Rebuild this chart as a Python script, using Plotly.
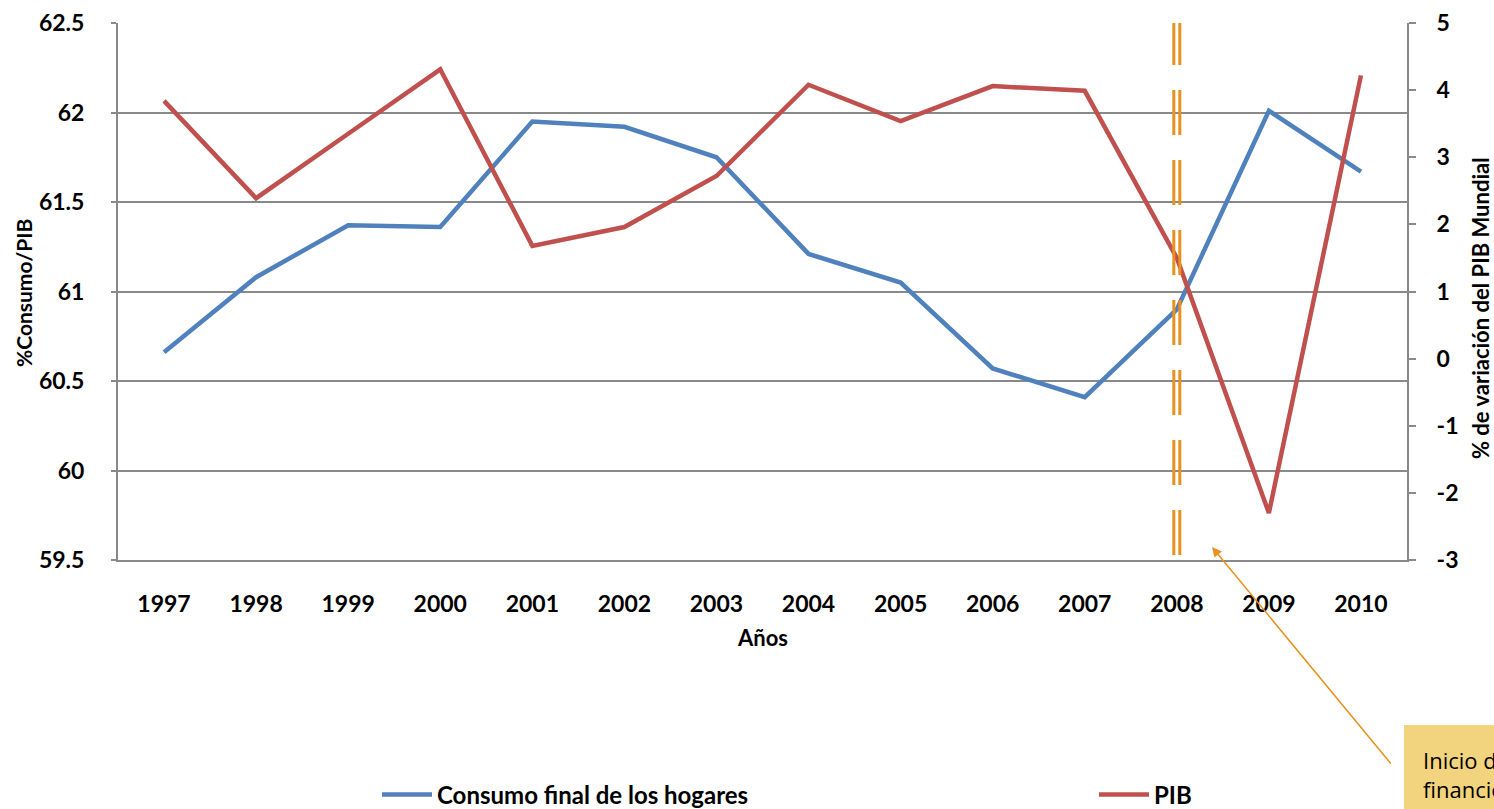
import plotly.graph_objects as go

years = ["1997", "1998", "1999", "2000", "2001", "2002", "2003",
         "2004", "2005", "2006", "2007", "2008", "2009", "2010"]
consumo = [60.66, 61.08, 61.37, 61.36, 61.95, 61.92, 61.75,
           61.21, 61.05, 60.57, 60.41, 60.90, 62.01, 61.67]
pib = [3.84, 2.39, 3.35, 4.31, 1.68, 1.96, 2.72,
       4.08, 3.54, 4.06, 3.99, 1.50, -2.30, 4.22]
left_ticks = [59.5, 60, 60.5, 61, 61.5, 62, 62.5]
left_labels = ["59.5", "60", "60.5", "61", "61.5", "62", "62.5"]
right_ticks = [-3, -2, -1, 0, 1, 2, 3, 4, 5]
right_labels = ["-3", "-2", "-1", "0", "1", "2", "3", "4", "5"]
crisis_year = "2008"

BLUE = "#4F81BD"
RED = "#C0504D"
ORANGE = "#E9901E"
GRID = "#898989"
FONT = "Lato"

# plot-area geometry (page pixels of the reference)
W, H = 1494, 809
PL, PR, PT, PB = 118, 1407, 23, 560
PW, PH = PR - PL, PB - PT


def px(xp):
    return (xp - PL) / PW


def py(yp):
    return (PB - yp) / PH


fig = go.Figure()
fig.add_trace(go.Scatter(x=years, y=consumo, mode="lines", name="Consumo final de los hogares",
                         line=dict(color=BLUE, width=4.5), yaxis="y", legend="legend"))
fig.add_trace(go.Scatter(x=years, y=pib, mode="lines", name="PIB",
                         line=dict(color=RED, width=4.5), yaxis="y2", legend="legend2"))

# double dashed vertical line at crisis year
idx = years.index(crisis_year)
xc = (idx + 0.5) / len(years)
for d in (-3.0, 3.0):
    fig.add_shape(type="line", xref="paper", yref="paper", x0=xc + d / PW, x1=xc + d / PW,
                  y0=py(555), y1=1.0,
                  line=dict(color=ORANGE, width=3, dash="45px,25px"))

tickfont = dict(family=FONT, size=23, color="black", weight="bold")
legfont = dict(family=FONT, size=24, color="black", weight="bold")

fig.update_layout(
    width=W, height=H,
    margin=dict(l=PL, r=W - PR, t=PT, b=H - PB, autoexpand=False),
    paper_bgcolor="white", plot_bgcolor="white",
    showlegend=True,
    legend=dict(orientation="h", x=px(377), xanchor="left", y=py(795), yanchor="middle",
                font=legfont, itemwidth=50, bgcolor="rgba(0,0,0,0)"),
    legend2=dict(orientation="h", x=px(1094), xanchor="left", y=py(795), yanchor="middle",
                 font=legfont, itemwidth=50, bgcolor="rgba(0,0,0,0)"),
    xaxis=dict(type="category", range=[-0.5, 13.5], showgrid=False,
               showline=True, linecolor=GRID, linewidth=2, ticks="",
               tickfont=tickfont, ticklabelstandoff=22),
    yaxis=dict(range=[59.5, 62.5], tickvals=left_ticks, ticktext=left_labels,
               showgrid=True, gridcolor=GRID, gridwidth=1.5,
               showline=True, linecolor=GRID, linewidth=2,
               ticks="outside", ticklen=5, tickcolor=GRID, tickwidth=1.5,
               tickfont=tickfont, ticklabelstandoff=22, zeroline=False),
    yaxis2=dict(range=[-3, 5], tickvals=right_ticks, ticktext=right_labels,
                overlaying="y", side="right", showgrid=False,
                showline=True, linecolor=GRID, linewidth=2,
                ticks="outside", ticklen=7, tickcolor=GRID, tickwidth=1.5,
                tickfont=tickfont, ticklabelstandoff=16, zeroline=False),
)

titlefont = dict(family=FONT, size=21, color="black", weight="bold")
fig.add_annotation(text="%Consumo/PIB", xref="paper", yref="paper",
                   x=px(23), y=py(293), xanchor="center", yanchor="middle",
                   textangle=-90, showarrow=False, font=titlefont)
fig.add_annotation(text="% de variación del PIB Mundial", xref="paper", yref="paper",
                   x=px(1480), y=py(308), xanchor="center", yanchor="middle",
                   textangle=-90, showarrow=False,
                   font=dict(family=FONT, size=22, color="black", weight="bold"))
fig.add_annotation(text="Años", xref="paper", yref="paper",
                   x=0.5, y=py(637), xanchor="center", yanchor="middle", showarrow=False,
                   font=dict(family=FONT, size=22, color="black", weight="bold"))

# callout box
fig.add_shape(type="rect", xref="paper", yref="paper",
              x0=px(1404), x1=px(1560), y0=py(725), y1=py(840),
              fillcolor="#F2D47E", line=dict(width=0), layer="below")
fig.add_annotation(text="Inicio de la crisis<br>financiera", xref="paper", yref="paper",
                   x=px(1421), y=py(774), xanchor="left", yanchor="middle",
                   align="left", showarrow=False,
                   font=dict(family="Open Sans", size=22, color="black"))
# arrow
fig.add_annotation(text="", xref="paper", yref="paper",
                   x=px(1212), y=py(547),
                   ax=180, ay=218, showarrow=True, arrowhead=2, arrowsize=1.3,
                   arrowwidth=1.5, arrowcolor=ORANGE)

fig.write_html("out.html", config={"displayModeBar": False},
               post_script="document.body.style.margin='0';document.body.style.overflow='hidden';")
